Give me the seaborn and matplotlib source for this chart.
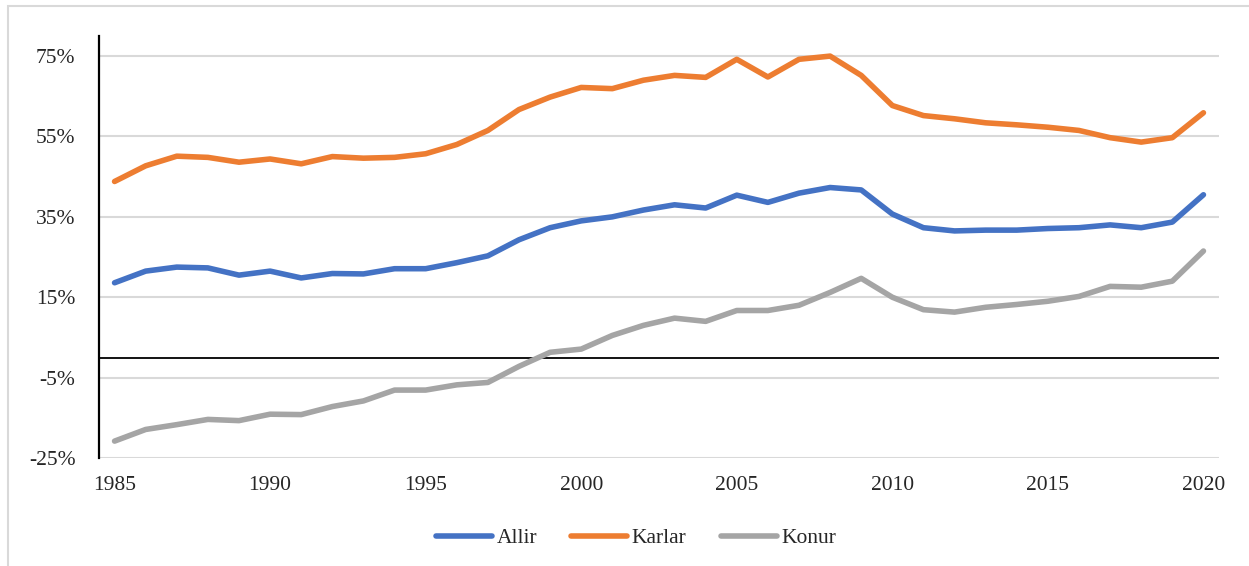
import pandas as pd
import matplotlib.pyplot as plt
import seaborn as sns
from matplotlib.patches import Rectangle

# DATA (percent)
years = list(range(1985, 2021))
allir = [18.6, 21.5, 22.5, 22.3, 20.5, 21.5, 19.8, 20.9, 20.8, 22.1, 22.1, 23.6,
         25.3, 29.3, 32.3, 34.0, 35.0, 36.7, 38.0, 37.2, 40.4, 38.6, 40.9, 42.3,
         41.7, 35.7, 32.3, 31.5, 31.7, 31.7, 32.1, 32.3, 33.0, 32.3, 33.7, 40.5]
karlar = [43.8, 47.7, 50.1, 49.8, 48.6, 49.4, 48.2, 50.0, 49.6, 49.8, 50.7, 53.0,
          56.5, 61.7, 64.8, 67.2, 66.9, 69.0, 70.2, 69.7, 74.2, 69.8, 74.2, 75.0,
          70.2, 62.7, 60.2, 59.4, 58.4, 57.9, 57.3, 56.5, 54.7, 53.6, 54.7, 60.9]
konur = [-20.8, -17.9, -16.7, -15.4, -15.7, -14.1, -14.2, -12.2, -10.8, -8.1, -8.1, -6.8,
         -6.2, -2.2, 1.3, 2.1, 5.5, 8.0, 9.8, 9.0, 11.7, 11.7, 13.0, 16.2,
         19.7, 15.0, 11.9, 11.3, 12.5, 13.2, 14.0, 15.2, 17.7, 17.5, 19.0, 26.5]
series_names = ["Allir", "Karlar", "Konur"]
colors = ["#4472C4", "#ED7D31", "#A5A5A5"]
yticks = [-25, -5, 15, 35, 55, 75]
xticks = [1985, 1990, 1995, 2000, 2005, 2010, 2015, 2020]

df = pd.DataFrame({"year": years, "Allir": allir, "Karlar": karlar, "Konur": konur})
long_df = df.melt(id_vars="year", var_name="series", value_name="value")

sns.set_style("white")
plt.rcParams['font.family'] = ['Liberation Serif', 'DejaVu Serif']

fig = plt.figure(figsize=(12.49, 5.66), dpi=100)
ax = fig.add_axes([99 / 1249, 1 - 458 / 566, (1219 - 99) / 1249, (458 - 36) / 566])

# gridlines
for t in yticks:
    ax.axhline(t, color="#D9D9D9", lw=1.5, zorder=0)
ax.axhline(0, color="black", lw=1.3, zorder=1)

sns.lineplot(data=long_df, x="year", y="value", hue="series", hue_order=series_names,
             palette=colors, lw=4, ax=ax, legend=False, zorder=3,
             solid_capstyle="round")

ax.set_xlim(1984.5, 2020.5)
ax.set_ylim(-25, 80)
ax.set_yticks(yticks)
ax.set_yticklabels([f"{t}%" for t in yticks])
ax.set_xticks(xticks)
ax.set_xticklabels([str(x) for x in xticks])
ax.tick_params(axis="y", length=0, pad=17, labelsize=15.5)
ax.tick_params(axis="x", length=0, pad=13, labelsize=15.5)
ax.set_xlabel("")
ax.set_ylabel("")
for s in ["top", "right", "bottom"]:
    ax.spines[s].set_visible(False)
ax.spines["left"].set_color("black")
ax.spines["left"].set_linewidth(1.6)

# legend
handles = [plt.Line2D([], [], color=c, lw=4) for c in colors]
fig.legend(handles, series_names, loc="center", bbox_to_anchor=(636 / 1249, 1 - 538 / 566),
           ncol=3, frameon=False, fontsize=15.5, handlelength=2.6, handletextpad=0.2,
           columnspacing=1.6)

# chart border
fig.patches.append(Rectangle((8 / 1249, -0.1), 2, 1.1 - 6 / 566, transform=fig.transFigure,
                             fill=False, edgecolor="#D9D9D9", lw=1.5))

fig.savefig("out.png", dpi=100)
